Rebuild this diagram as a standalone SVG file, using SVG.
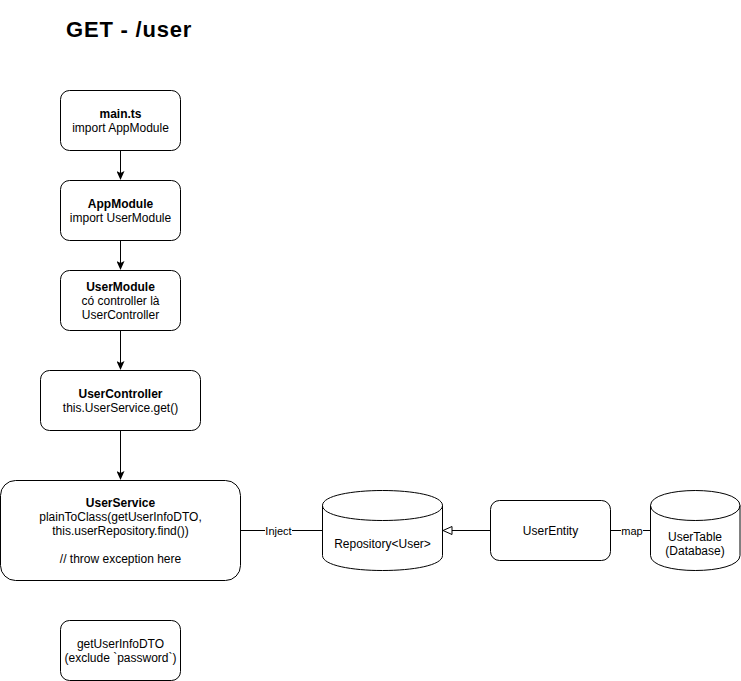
<svg xmlns="http://www.w3.org/2000/svg" width="741" height="681" viewBox="0 0 741 681">
  <style>
    .box { fill: #ffffff; stroke: #000000; stroke-width: 1; }
    .edge { fill: none; stroke: #000000; stroke-width: 1; }
    text { font-family: "Liberation Sans", Arial, Helvetica, sans-serif; font-size: 12px; fill: #000000; text-anchor: middle; }
    .b { font-weight: bold; }
    .title { font-size: 22px; font-weight: bold; text-anchor: start; letter-spacing: 0.8px; }
    .lbl { font-size: 11px; }
  </style>
  <defs>
    <marker id="arrow" viewBox="0 0 9 8" refX="2" refY="4" markerWidth="9" markerHeight="8" markerUnits="userSpaceOnUse" orient="auto">
      <path d="M0,0 L9,4 L0,8 L2,4 Z" fill="#000000"/>
    </marker>
    <marker id="hollow" viewBox="-1 -1 11 10" refX="0" refY="4" markerWidth="11" markerHeight="10" markerUnits="userSpaceOnUse" orient="auto">
      <path d="M0,0 L9,4 L0,8 Z" fill="#ffffff" stroke="#000000" stroke-width="1"/>
    </marker>
  </defs>

  <text class="title" x="66" y="37">GET - /user</text>

  <!-- connectors -->
  <g id="connectors">
    <path class="edge" d="M120.5,150.5 V173" marker-end="url(#arrow)"/>
    <path class="edge" d="M120.5,240.5 V263" marker-end="url(#arrow)"/>
    <path class="edge" d="M120.5,330.5 V363" marker-end="url(#arrow)"/>
    <path class="edge" d="M120.5,430.5 V473" marker-end="url(#arrow)"/>
    <path class="edge" d="M240.5,530.5 H322.5"/>
    <rect x="265" y="524" width="27" height="13" fill="#ffffff"/>
    <text class="lbl" x="278.5" y="535">Inject</text>
    <path class="edge" d="M490.5,530.5 H452" marker-end="url(#hollow)"/>
    <path class="edge" d="M610.5,530.5 H650.5"/>
    <rect x="621" y="524" width="22" height="13" fill="#ffffff"/>
    <text class="lbl" x="632" y="535">map</text>
  </g>

  <g id="main-ts">
    <rect class="box" x="60.5" y="90.5" width="120" height="60" rx="9" ry="9"/>
    <text class="b" x="120.5" y="118">main.ts</text>
    <text x="120.5" y="132">import AppModule</text>
  </g>

  <g id="app-module">
    <rect class="box" x="60.5" y="180.5" width="120" height="60" rx="9" ry="9"/>
    <text class="b" x="120.5" y="208">AppModule</text>
    <text x="120.5" y="222">import UserModule</text>
  </g>

  <g id="user-module">
    <rect class="box" x="60.5" y="270.5" width="120" height="60" rx="9" ry="9"/>
    <text class="b" x="120.5" y="291">UserModule</text>
    <text x="120.5" y="305">có controller là</text>
    <text x="120.5" y="319">UserController</text>
  </g>

  <g id="user-controller">
    <rect class="box" x="40.5" y="370.5" width="160" height="60" rx="9" ry="9"/>
    <text class="b" x="120.5" y="398">UserController</text>
    <text x="120.5" y="412">this.UserService.get()</text>
  </g>

  <g id="user-service">
    <rect class="box" x="0.5" y="480.5" width="240" height="100" rx="15" ry="15"/>
    <text class="b" x="120.5" y="507">UserService</text>
    <text x="120.5" y="521">plainToClass(getUserInfoDTO,</text>
    <text x="120.5" y="535">this.userRepository.find())</text>
    <text x="120.5" y="563">// throw exception here</text>
  </g>

  <g id="repository">
    <path class="box" d="M322.5,505.5 C322.5,485.5 442.5,485.5 442.5,505.5 V555.5 C442.5,575.5 322.5,575.5 322.5,555.5 Z"/>
    <path class="edge" d="M322.5,505.5 C322.5,525.5 442.5,525.5 442.5,505.5"/>
    <text x="382.5" y="548">Repository&lt;User&gt;</text>
  </g>

  <g id="user-entity">
    <rect class="box" x="490.5" y="500.5" width="120" height="60" rx="9" ry="9"/>
    <text x="550.5" y="535">UserEntity</text>
  </g>

  <g id="user-table">
    <path class="box" d="M650.5,505.5 C650.5,485.5 740,485.5 740,505.5 V555.5 C740,575.5 650.5,575.5 650.5,555.5 Z"/>
    <path class="edge" d="M650.5,505.5 C650.5,525.5 740,525.5 740,505.5"/>
    <text x="695" y="541">UserTable</text>
    <text x="695" y="555">(Database)</text>
  </g>

  <g id="get-user-info-dto">
    <rect class="box" x="60.5" y="620.5" width="120" height="60" rx="9" ry="9"/>
    <text x="120.5" y="648">getUserInfoDTO</text>
    <text x="120.5" y="662">(exclude `password`)</text>
  </g>
</svg>
